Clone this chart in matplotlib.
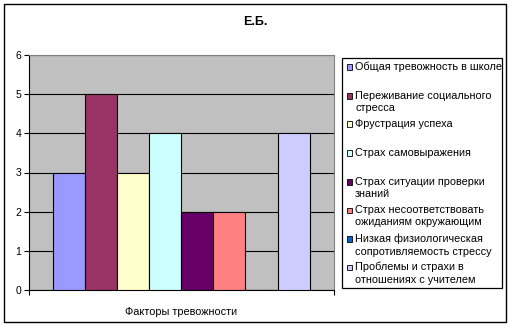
import matplotlib.pyplot as plt
from matplotlib.patches import Rectangle

# Data
categories = [
    "Общая тревожность в школе",
    "Переживание социального\nстресса",
    "Фрустрация успеха",
    "Страх самовыражения",
    "Страх ситуации проверки\nзнаний",
    "Страх несоответствовать\nожиданиям окружающим",
    "Низкая физиологическая\nсопротивляемость стрессу",
    "Проблемы и страхи в\nотношениях с учителем",
]
values = [3, 5, 3, 4, 2, 2, 0, 4]
colors = ["#9999FF", "#993366", "#FFFFCC", "#CCFFFF",
          "#660066", "#FF8080", "#0066CC", "#CCCCFF"]
title = "Е.Б."
xlabel = "Факторы тревожности"
yticks = [0, 1, 2, 3, 4, 5, 6]

plt.rcParams["font.family"] = ["Liberation Sans", "DejaVu Sans"]

W, H = 511, 327
fig = plt.figure(figsize=(W / 100, H / 100), dpi=100)

# outer chart frame
fig.patches.append(Rectangle((4 / W, 1 - 322 / H), 502 / W, 318 / H,
                             transform=fig.transFigure, fill=False,
                             edgecolor="black", linewidth=1.0))

ax = fig.add_axes([29 / W, 1 - 290 / H, 304.5 / W, 235 / H])
ax.set_facecolor("#C0C0C0")

x = list(range(len(values)))
ax.bar(x, values, width=1.0, color=colors, edgecolor="black",
       linewidth=0.8, zorder=3)

ax.set_xlim(-1.24, len(values) - 1 + 1.24)
ax.set_ylim(0, 6)
ax.set_yticks(yticks)
ax.set_yticklabels([str(t) for t in yticks], fontsize=7.5)
ax.yaxis.grid(True, color="black", linewidth=0.8, zorder=1)
ax.set_axisbelow(True)

ax.set_xticks([-1.24, len(values) - 1 + 1.24])
ax.set_xticklabels([])
ax.tick_params(axis="both", direction="out", length=3.5, width=0.8,
               color="black", pad=2)

for s in ["left", "bottom"]:
    ax.spines[s].set_color("black")
    ax.spines[s].set_linewidth(0.8)
for s in ["top", "right"]:
    ax.spines[s].set_color("#808080")
    ax.spines[s].set_linewidth(0.8)

ax.set_xlabel(xlabel, fontsize=7.8, labelpad=7)
fig.text(255 / W, 1 - 22 / H, title, ha="center", va="center",
         fontsize=9, fontweight="bold")

# legend box drawn by hand, Excel style
fig.patches.append(Rectangle((342 / W, 1 - 287.5 / H), 160 / W, 229.5 / H,
                             transform=fig.transFigure, facecolor="white",
                             edgecolor="black", linewidth=0.9))
entry_y = [66.7, 96, 124, 153, 181.7, 210, 238.7, 267]
for label, color, yy in zip(categories, colors, entry_y):
    fig.patches.append(Rectangle((346.5 / W, 1 - (yy + 3) / H), 5.5 / W, 5.5 / H,
                                 transform=fig.transFigure, facecolor=color,
                                 edgecolor="black", linewidth=0.6))
    fig.text(355 / W, 1 - (yy - 5) / H, label, ha="left", va="top",
             fontsize=7.8, linespacing=1.3)

fig.savefig("out.png", dpi=100)
